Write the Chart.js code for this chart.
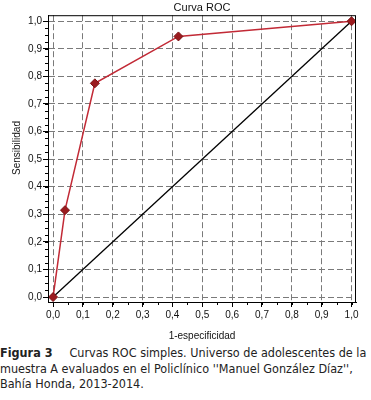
<!DOCTYPE html>
<html>
<head>
<meta charset="utf-8">
<script src="https://cdn.jsdelivr.net/npm/chart.js@4"></script>
<style>
  body { margin: 0; background: #fff; width: 371px; height: 400px; overflow: hidden; }
  #wrap { position: relative; width: 371px; height: 345px; }
  #caption {
    font-family: "DejaVu Sans Condensed", "DejaVu Sans", sans-serif;
    font-size: 12.5px;
    line-height: 15.7px;
    color: #222;
    white-space: nowrap;
    margin-top: 0px;
  }
  #caption b { margin-right: 17px; }
</style>
</head>
<body>
<div id="wrap"><canvas id="roc" width="371" height="345"></canvas></div>
<div id="caption">
  <div><b>Figura 3</b>Curvas ROC simples. Universo de adolescentes de la</div>
  <div>muestra A evaluados en el Policlínico ''Manuel González Díaz'',</div>
  <div>Bahía Honda, 2013-2014.</div>
</div>
<script>
  // datos
  const fpr = [0, 0.04, 0.14, 0.42, 1.0];        // 1-especificidad
  const tpr = [0, 0.315, 0.775, 0.945, 1.0];     // sensibilidad
  const refX = [0, 1];
  const refY = [0, 1];
  const majorTicks = [0, 0.1, 0.2, 0.3, 0.4, 0.5, 0.6, 0.7, 0.8, 0.9, 1.0];
  const minorStepX = 0.05;
  const minorStepY = 0.025;

  const fmt = v => v.toFixed(1).replace(".", ",");

  // marco, ticks menores y título del eje Y
  const framePlugin = {
    id: "frame",
    afterDraw(chart) {
      const { ctx, chartArea: a, scales } = chart;
      ctx.save();
      ctx.strokeStyle = "#000";
      ctx.lineWidth = 1;
      ctx.strokeRect(a.left + 0.5, a.top + 0.5, a.right - a.left - 1, a.bottom - a.top);

      ctx.beginPath();
      for (let i = 0; i <= Math.round(1 / minorStepX); i++) {
        const px = Math.round(scales.x.getPixelForValue(i * minorStepX)) + 0.5;
        ctx.moveTo(px, a.bottom);
        ctx.lineTo(px, a.bottom + 3);
      }
      for (let i = 0; i <= Math.round(1 / minorStepY); i++) {
        const py = Math.round(scales.y.getPixelForValue(i * minorStepY)) + 0.5;
        ctx.moveTo(a.left, py);
        ctx.lineTo(a.left - 3, py);
      }
      ctx.stroke();

      ctx.fillStyle = "#111";
      ctx.font = "10px 'Liberation Sans', Arial, sans-serif";
      ctx.textAlign = "center";
      ctx.textBaseline = "middle";
      ctx.translate(17, 148);
      ctx.rotate(-Math.PI / 2);
      ctx.fillText("Sensibilidad", 0, 0);
      ctx.restore();
    }
  };

  const tickFont = { family: "'Liberation Sans', Arial, sans-serif", size: 10 };

  const axisCommon = {
    type: "linear",
    afterBuildTicks: s => { s.ticks = majorTicks.map(v => ({ value: v })); },
    grid: {
      color: "#7a7a7a",
      lineWidth: 1,
      tickLength: 5,
      tickColor: "#000",
      tickBorderDash: []
    },
    border: { display: true, color: "#000", dash: [6, 3] },
  };

  new Chart(document.getElementById("roc"), {
    type: "line",
    data: {
      datasets: [
        {
          label: "ROC",
          data: fpr.map((x, i) => ({ x, y: tpr[i] })),
          borderColor: "#c22a36",
          borderWidth: 1.5,
          pointStyle: "rectRot",
          pointRadius: 4.5,
          pointBackgroundColor: "#9b1b1f",
          pointBorderColor: "#7a1214",
          pointBorderWidth: 1,
          tension: 0,
          order: 1
        },
        {
          label: "Referencia",
          data: refX.map((x, i) => ({ x, y: refY[i] })),
          borderColor: "#000",
          borderWidth: 1.3,
          pointRadius: 0,
          order: 2
        }
      ]
    },
    options: {
      responsive: false,
      animation: false,
      layout: { padding: { left: 0, right: 15, top: 0, bottom: 0 } },
      plugins: {
        legend: { display: false },
        tooltip: { enabled: false },
        title: {
          display: true,
          text: "Curva ROC",
          fullSize: false,
          color: "#111",
          font: { family: "'Liberation Sans', Arial, sans-serif", size: 11, weight: "normal" },
          padding: { top: 1, bottom: 1 }
        }
      },
      scales: {
        x: {
          ...axisCommon,
          min: -0.017,
          max: 1.015,
          afterFit: s => { s.height = 43; },
          ticks: { autoSkip: false, maxRotation: 0, padding: 2, color: "#111", font: tickFont, callback: fmt },
          title: {
            display: true,
            text: "1-especificidad",
            color: "#111",
            font: tickFont,
            padding: { top: 7, bottom: 3 }
          }
        },
        y: {
          ...axisCommon,
          min: -0.018,
          max: 1.022,
          afterFit: s => { s.width = 48; },
          ticks: { autoSkip: false, padding: 1, color: "#111", font: tickFont, callback: fmt }
        }
      }
    },
    plugins: [framePlugin]
  });
</script>
</body>
</html>
